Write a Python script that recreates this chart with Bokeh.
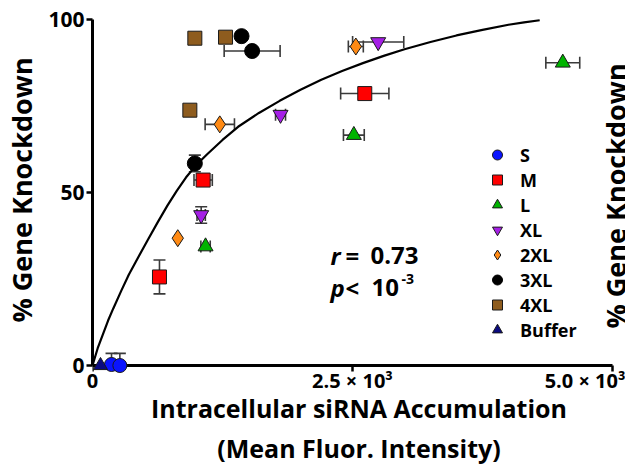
from bokeh.plotting import figure
from bokeh.models import (Range1d, FixedTicker, Label, Legend, LegendItem,
                          Whisker, ColumnDataSource, TeeHead)
from bokeh.embed import file_html
from bokeh.resources import INLINE

# ---------------- data ----------------
s_x = [183, 263]
s_y = [0.3, 0.0]
s_yerr = [3.2, 3.5]

m_x = [644, 1064, 2618]
m_y = [25.6, 53.6, 78.6]
m_xerr = [0, 88, 232]
m_yerr = [4.9, 0, 0]

l_x = [1087, 2513, 4522]
l_y = [34.4, 66.6, 87.5]
l_xerr = [45, 100, 163]

xl_x = [1045, 1808, 2747]
xl_y = [43.5, 72.5, 93.5]
xl_xerr = [40, 48, 246]
xl_yerr = [2.4, 0, 0]

x2l_x = [820, 1224, 2532]
x2l_y = [36.8, 69.7, 92.2]
x2l_xerr = [0, 141, 72]

x3l_x = [984, 1433, 1535]
x3l_y = [58.4, 95.2, 90.9]
x3l_xerr = [0, 0, 269]
x3l_yerr = [2.4, 0, 0]

x4l_x = [936, 984, 1279]
x4l_y = [73.8, 94.6, 94.9]

buf_x = [77]
buf_y = [0.0]

fit_x = [0, 50, 100, 150, 200, 275, 350, 440, 530, 625, 720, 810, 900, 1000, 1100,
         1250, 1400, 1600, 1800, 2000, 2200, 2400, 2600, 2800, 3000, 3250, 3500,
         3750, 4000, 4150, 4300]
fit_y = [0, 5, 9, 13, 16.5, 21.5, 26.3, 31.3, 36.2, 41.3, 46.2, 50.5, 54.4, 58.0, 61.0,
         65.2, 69.0, 73.0, 76.5, 79.7, 82.6, 85.1, 87.4, 89.5, 91.4, 93.5, 95.4,
         97.0, 98.5, 99.2, 99.8]

x_ticks = [0, 2500, 5000]
x_tick_labels = ["0", "2.5 × 10³", "5.0 × 10³"]
y_ticks = [0, 50, 100]

FONT = "Open Sans"
EDGE = "#1a1a1a"
ERR = "#3a3a3a"

p = figure(width=625, height=468, output_backend="svg", toolbar_location=None,
           x_range=Range1d(0, 5125), y_range=Range1d(-4.04, 105.5),
           min_border_left=92, min_border_right=0, min_border_top=0, min_border_bottom=88)
p.outline_line_color = None
p.grid.visible = False
p.background_fill_color = "white"
p.border_fill_color = "white"

for ax in (p.xaxis[0], p.yaxis[0]):
    ax.minor_tick_line_color = None
    ax.major_label_text_font = FONT
    ax.major_label_text_font_style = "bold"
    ax.major_label_text_color = "black"
    ax.axis_label_text_font = FONT
    ax.axis_label_text_font_style = "bold"
    ax.axis_label_text_color = "black"

# x axis: labels from the axis, its rule drawn at y = 0 (points sit on it)
xa = p.xaxis[0]
xa.axis_line_color = None
xa.major_tick_line_color = None
xa.major_tick_out = 0
xa.major_tick_in = 0
xa.ticker = FixedTicker(ticks=x_ticks)
xa.major_label_overrides = {t: s for t, s in zip(x_ticks, x_tick_labels)}
xa.major_label_text_font_size = "20px"
xa.major_label_standoff = -13
xa.axis_label = "Intracellular siRNA Accumulation\n(Mean Fluor. Intensity)"
xa.axis_label_text_font_size = "25px"
xa.axis_label_standoff = -6

p.segment(x0=[x_ticks[0]], y0=[0], x1=[x_ticks[-1]], y1=[0], line_color="black", line_width=3)
p.segment(x0=x_ticks, y0=[0] * len(x_ticks), x1=x_ticks, y1=[-1.75] * len(x_ticks),
          line_color="black", line_width=2.5)

ya = p.yaxis[0]
ya.axis_line_width = 3
ya.axis_line_color = "black"
ya.major_tick_line_width = 2.5
ya.major_tick_line_color = "black"
ya.major_tick_out = 6
ya.major_tick_in = 0
ya.bounds = (0, 100)
ya.ticker = FixedTicker(ticks=y_ticks)
ya.major_label_text_font_size = "21px"
ya.major_label_standoff = 2
ya.axis_label = "% Gene Knockdown"
ya.axis_label_text_font_size = "27px"
ya.axis_label_standoff = 5

# fit curve
p.line(fit_x, fit_y, line_color="black", line_width=2.2)


def whisk(base, lower, upper, dim, lower_head=True):
    src = ColumnDataSource(dict(base=base, lower=lower, upper=upper))
    w = Whisker(source=src, base="base", lower="lower", upper="upper", dimension=dim,
                line_color=ERR, line_width=1.6, level="underlay",
                lower_head=TeeHead(size=12, line_color=ERR, line_width=1.6) if lower_head else None,
                upper_head=TeeHead(size=12, line_color=ERR, line_width=1.6))
    p.add_layout(w)


def add_xerr(xs, ys, errs):
    sel = [i for i, e in enumerate(errs) if e > 0]
    if sel:
        whisk([ys[i] for i in sel], [xs[i] - errs[i] for i in sel],
              [xs[i] + errs[i] for i in sel], "width")


def add_yerr(xs, ys, errs, lower=True):
    sel = [i for i, e in enumerate(errs) if e > 0]
    if sel:
        whisk([xs[i] for i in sel],
              [ys[i] - errs[i] if lower else ys[i] for i in sel],
              [ys[i] + errs[i] for i in sel], "height", lower_head=lower)


add_yerr(s_x, s_y, s_yerr, lower=False)
add_xerr(m_x, m_y, m_xerr)
add_yerr(m_x, m_y, m_yerr)
add_xerr(l_x, l_y, l_xerr)
add_xerr(xl_x, xl_y, xl_xerr)
add_yerr(xl_x, xl_y, xl_yerr)
add_xerr(x2l_x, x2l_y, x2l_xerr)
add_xerr(x3l_x, x3l_y, x3l_xerr)
add_yerr(x3l_x, x3l_y, x3l_yerr)

r_s = p.scatter(s_x, s_y, marker="circle", size=14, fill_color="#0a14ff", line_color=EDGE, line_width=1)
r_m = p.scatter(m_x, m_y, marker="square", size=14, fill_color="#ff0000", line_color=EDGE, line_width=1)
r_l = p.scatter(l_x, l_y, marker="triangle", size=15, fill_color="#00b400", line_color=EDGE, line_width=1)
r_xl = p.scatter(xl_x, xl_y, marker="inverted_triangle", size=15, fill_color="#a51fe6", line_color=EDGE, line_width=1)
r_2xl = p.scatter(x2l_x, x2l_y, marker="diamond", size=17, fill_color="#ff8a14", line_color=EDGE, line_width=1)
r_3xl = p.scatter(x3l_x, x3l_y, marker="circle", size=15, fill_color="black", line_color="black", line_width=1)
r_4xl = p.scatter(x4l_x, x4l_y, marker="square", size=14, fill_color="#8e5c1e", line_color=EDGE, line_width=1)
r_buf = p.scatter(buf_x, buf_y, marker="triangle", size=14, fill_color="#0a0a80", line_color=EDGE, line_width=1)

legend = Legend(items=[
    LegendItem(label="S", renderers=[r_s]),
    LegendItem(label="M", renderers=[r_m]),
    LegendItem(label="L", renderers=[r_l]),
    LegendItem(label="XL", renderers=[r_xl]),
    LegendItem(label="2XL", renderers=[r_2xl]),
    LegendItem(label="3XL", renderers=[r_3xl]),
    LegendItem(label="4XL", renderers=[r_4xl]),
    LegendItem(label="Buffer", renderers=[r_buf]),
], location=(392, 37), glyph_width=26, glyph_height=25, spacing=0, padding=0, margin=0,
    label_standoff=10, label_height=25, label_text_font=FONT, label_text_font_style="bold",
    label_text_font_size="18px", label_text_color="black",
    border_line_alpha=0, background_fill_alpha=0)
p.add_layout(legend)

# statistics text
stat_x = 2288
TXT = dict(text_font=FONT, text_font_size="24px", text_baseline="alphabetic", text_color="black")
p.add_layout(Label(x=stat_x, y=29.1, y_offset=9, text="r", text_font_style="bold italic", **TXT))
p.add_layout(Label(x=stat_x, y=29.1, y_offset=9, x_offset=15, text="=", text_font_style="bold", **TXT))
p.add_layout(Label(x=stat_x, y=29.1, y_offset=9, x_offset=40, text="0.73", text_font_style="bold", **TXT))
p.add_layout(Label(x=stat_x, y=19.9, y_offset=9, text="p", text_font_style="bold italic", **TXT))
p.add_layout(Label(x=stat_x, y=19.9, y_offset=9, x_offset=15, text="<", text_font_style="bold", **TXT))
p.add_layout(Label(x=stat_x, y=19.9, y_offset=9, x_offset=41, text="10", text_font_style="bold", **TXT))
p.add_layout(Label(x=stat_x, y=19.9, y_offset=18, x_offset=71, text="-3", text_font=FONT,
                   text_font_style="bold", text_font_size="14px", text_baseline="alphabetic",
                   text_color="black"))

# duplicate axis title on the right edge
p.add_layout(Label(x=5029, y=49, text="% Gene Knockdown", angle=1.5708, text_font=FONT,
                   text_font_style="bold", text_font_size="27px", text_align="center",
                   text_baseline="middle", text_color="black"))

open("out.html", "w").write(file_html(p, INLINE))
